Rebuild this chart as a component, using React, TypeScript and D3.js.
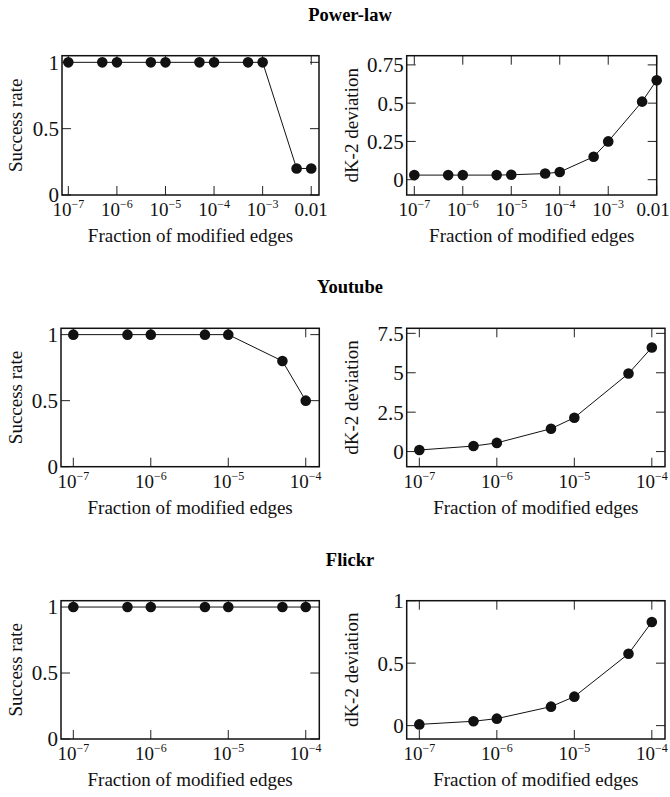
import React, { useEffect, useRef } from "react";
import * as d3 from "d3";

// fraction of modified edges (x values)
const powerLawX = [1e-7, 5e-7, 1e-6, 5e-6, 1e-5, 5e-5, 1e-4, 5e-4, 1e-3, 5e-3, 1e-2];
const powerLawSuccess = [1, 1, 1, 1, 1, 1, 1, 1, 1, 0.2, 0.2];
const powerLawDeviation = [0.03, 0.03, 0.03, 0.03, 0.032, 0.04, 0.05, 0.15, 0.25, 0.51, 0.65];

const youtubeX = [1e-7, 5e-7, 1e-6, 5e-6, 1e-5, 5e-5, 1e-4];
const youtubeSuccess = [1, 1, 1, 1, 1, 0.8, 0.5];
const youtubeDeviation = [0.1, 0.35, 0.55, 1.45, 2.15, 4.95, 6.6];

const flickrX = [1e-7, 5e-7, 1e-6, 5e-6, 1e-5, 5e-5, 1e-4];
const flickrSuccess = [1, 1, 1, 1, 1, 1, 1];
const flickrDeviation = [0.01, 0.035, 0.056, 0.152, 0.232, 0.575, 0.83];

const powerLawXTicks = [1e-7, 1e-6, 1e-5, 1e-4, 1e-3, 1e-2];
const shortXTicks = [1e-7, 1e-6, 1e-5, 1e-4];
const successTicks = [0, 0.5, 1];
const powerLawDevTicks = [0, 0.25, 0.5, 0.75];
const youtubeDevTicks = [0, 2.5, 5, 7.5];
const flickrDevTicks = [0, 0.5, 1];

const titles = ["Power-law", "Youtube", "Flickr"];
const xTitle = "Fraction of modified edges";
const successTitle = "Success rate";
const deviationTitle = "dK-2 deviation";

const FONT = "'Liberation Serif', 'Times New Roman', serif";
const W = 670;

type Panel = {
  x: number[];
  y: number[];
  xTicks: number[];
  yTicks: number[];
  yTitle: string;
  box: [number, number, number, number]; // left, right, top, bottom
  xDomain: [number, number];
  yDomain: [number, number];
  titleX: number;
};

const rows = [
  { top: 55.7, bottom: 195, titleY: 21 },
  { top: 328.3, bottom: 466.7, titleY: 293 },
  { top: 600.7, bottom: 739, titleY: 566 },
];

const dec = (v: number, d: number) => v * Math.pow(10, d);

const panels: Panel[] = [
  {
    x: powerLawX, y: powerLawSuccess, xTicks: powerLawXTicks, yTicks: successTicks,
    yTitle: successTitle, box: [62, 319, rows[0].top, rows[0].bottom],
    xDomain: [dec(1e-7, -0.13), dec(1e-2, 0.16)], yDomain: [0, 1.05], titleX: 22,
  },
  {
    x: powerLawX, y: powerLawDeviation, xTicks: powerLawXTicks, yTicks: powerLawDevTicks,
    yTitle: deviationTitle, box: [406.7, 656.7, rows[0].top, rows[0].bottom],
    xDomain: [dec(1e-7, -0.157), 1e-2], yDomain: [-0.1, 0.81], titleX: 358,
  },
  {
    x: youtubeX, y: youtubeSuccess, xTicks: shortXTicks, yTicks: successTicks,
    yTitle: successTitle, box: [61, 319.3, rows[1].top, rows[1].bottom],
    xDomain: [dec(1e-7, -0.159), dec(1e-4, 0.175)], yDomain: [0, 1.048], titleX: 22,
  },
  {
    x: youtubeX, y: youtubeDeviation, xTicks: shortXTicks, yTicks: youtubeDevTicks,
    yTitle: deviationTitle, box: [406.7, 665, rows[1].top, rows[1].bottom],
    xDomain: [dec(1e-7, -0.163), dec(1e-4, 0.17)], yDomain: [-0.96, 7.82], titleX: 358,
  },
  {
    x: flickrX, y: flickrSuccess, xTicks: shortXTicks, yTicks: successTicks,
    yTitle: successTitle, box: [61, 319.3, rows[2].top, rows[2].bottom],
    xDomain: [dec(1e-7, -0.159), dec(1e-4, 0.175)], yDomain: [0, 1.048], titleX: 22,
  },
  {
    x: flickrX, y: flickrDeviation, xTicks: shortXTicks, yTicks: flickrDevTicks,
    yTitle: deviationTitle, box: [406.7, 665, rows[2].top, rows[2].bottom],
    xDomain: [dec(1e-7, -0.163), dec(1e-4, 0.17)], yDomain: [-0.107, 1.0], titleX: 358,
  },
];

const App = () => {
  const ref = useRef<SVGSVGElement | null>(null);

  useEffect(() => {
    const svg = d3.select(ref.current);
    svg.selectAll("*").remove();

    // row titles
    rows.forEach((r, i) => {
      svg
        .append("text")
        .attr("x", 350)
        .attr("y", r.titleY)
        .attr("text-anchor", "middle")
        .attr("font-family", FONT)
        .attr("font-weight", "bold")
        .attr("font-size", 18.5)
        .text(titles[i]);
    });

    panels.forEach((p) => {
      const [left, right, top, bottom] = p.box;
      const x = d3.scaleLog().domain(p.xDomain).range([left, right]);
      const y = d3.scaleLinear().domain(p.yDomain).range([bottom, top]);
      const g = svg.append("g");
      const tick = 9;

      // ticks, inward on all four sides
      p.xTicks.forEach((t) => {
        g.append("line").attr("x1", x(t)).attr("x2", x(t))
          .attr("y1", bottom).attr("y2", bottom - tick).attr("stroke", "#222").attr("stroke-width", 1);
        g.append("line").attr("x1", x(t)).attr("x2", x(t))
          .attr("y1", top).attr("y2", top + tick).attr("stroke", "#222").attr("stroke-width", 1);
        const label = g.append("text")
          .attr("x", Math.min(x(t), W - 17))
          .attr("y", bottom + 21)
          .attr("text-anchor", "middle")
          .attr("font-family", FONT)
          .attr("font-size", 19)
          .attr("fill", "#111");
        if (t === 1e-2) {
          label.text("0.01");
        } else {
          label.append("tspan").text("10");
          label.append("tspan")
            .attr("dy", -8)
            .attr("font-size", 12)
            .text("\u2212" + Math.round(-Math.log10(t)));
        }
      });

      p.yTicks.forEach((t) => {
        g.append("line").attr("x1", left).attr("x2", left + tick)
          .attr("y1", y(t)).attr("y2", y(t)).attr("stroke", "#222").attr("stroke-width", 1);
        g.append("line").attr("x1", right).attr("x2", right - tick)
          .attr("y1", y(t)).attr("y2", y(t)).attr("stroke", "#222").attr("stroke-width", 1);
        g.append("text")
          .attr("x", left - 3)
          .attr("y", y(t))
          .attr("dy", "0.35em")
          .attr("text-anchor", "end")
          .attr("font-family", FONT)
          .attr("font-size", 21)
          .attr("fill", "#111")
          .text(String(t));
      });

      // frame
      g.append("rect")
        .attr("x", left).attr("y", top)
        .attr("width", right - left).attr("height", bottom - top)
        .attr("fill", "none").attr("stroke", "#111").attr("stroke-width", 1.5);

      // series
      const pts = p.x.map((v, i) => [v, p.y[i]] as [number, number]);
      const line = d3.line<[number, number]>().x((d) => x(d[0])).y((d) => y(d[1]));
      g.append("path").attr("d", line(pts)).attr("fill", "none")
        .attr("stroke", "#111").attr("stroke-width", 1);
      g.selectAll("circle.pt").data(pts).enter().append("circle")
        .attr("class", "pt")
        .attr("cx", (d) => x(d[0])).attr("cy", (d) => y(d[1]))
        .attr("r", 5.3).attr("fill", "#111");

      // axis titles
      g.append("text")
        .attr("x", (left + right) / 2)
        .attr("y", bottom + 47)
        .attr("text-anchor", "middle")
        .attr("font-family", FONT)
        .attr("font-size", 19)
        .attr("fill", "#111")
        .text(xTitle);
      g.append("text")
        .attr("transform", `translate(${p.titleX}, ${(top + bottom) / 2}) rotate(-90)`)
        .attr("text-anchor", "middle")
        .attr("font-family", FONT)
        .attr("font-size", 19)
        .attr("fill", "#111")
        .text(p.yTitle);
    });
  }, []);

  return (
    <svg
      ref={ref}
      width={W}
      height={797}
      style={{ position: "absolute", left: 0, top: 0, background: "#fff" }}
    />
  );
};

export default App;
